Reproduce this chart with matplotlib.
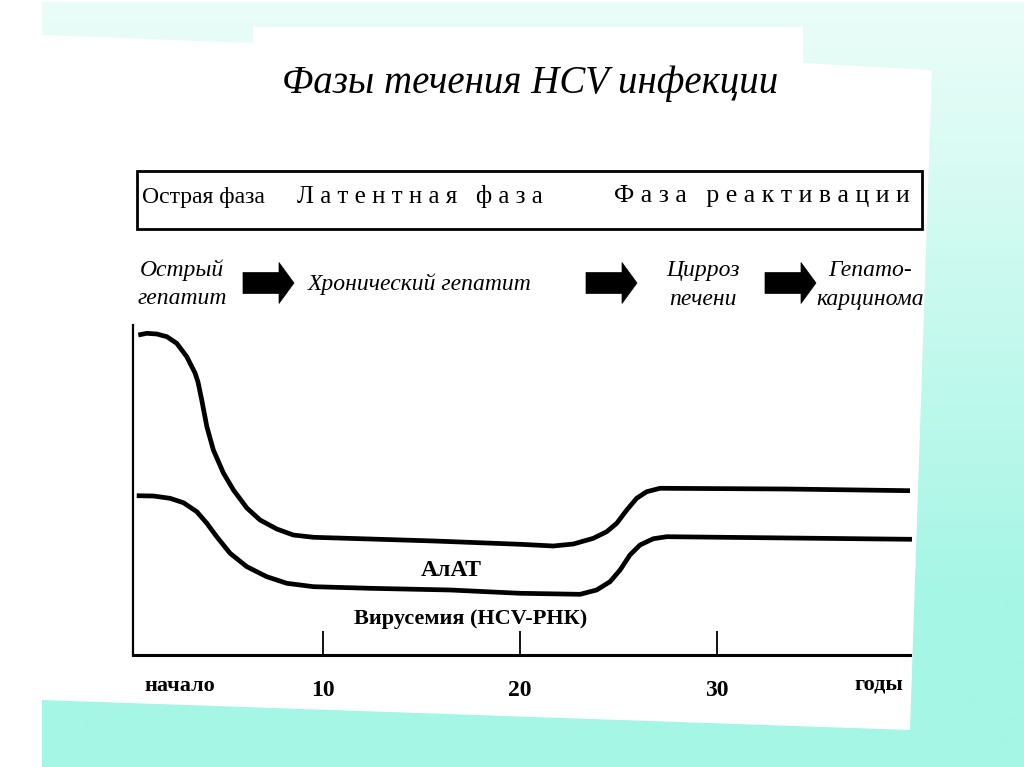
import numpy as np
import matplotlib
matplotlib.use("Agg")
import matplotlib.pyplot as plt
from matplotlib.patches import Polygon, Rectangle, FancyArrow
from matplotlib.colors import to_rgb

# ---------------- data ----------------
title = "Фазы течения HCV инфекции"
phase_labels = ["Острая фаза", "Л а т е н т н а я   ф а з а", "Ф а з а   р е а к т и в а ц и и"]
stage_labels = ["Острый\nгепатит", "Хронический гепатит", "Цирроз\nпечени", "Гепато-\nкарцинома"]

alt_years = [0.62, 1.05, 1.56, 2.07, 2.57, 3.08, 3.50, 3.65, 3.84, 4.10, 4.43, 4.94, 5.45,
             6.13, 6.80, 7.65, 8.49, 9.51, 12.39, 15.63, 20.00, 21.69, 22.71, 23.72,
             24.40, 24.91, 25.42, 25.92, 26.43, 27.11, 33.54, 39.80]
alt_level = [96.97, 97.48, 97.27, 96.45, 94.45, 90.39, 85.45, 82.73, 77.27, 69.18, 62.12,
             55.15, 50.00, 44.55, 40.91, 38.18, 36.36, 35.67, 35.15, 34.55, 33.55, 33.03,
             33.64, 35.36, 37.36, 39.91, 43.94, 47.48, 49.48, 50.52, 50.30, 49.79]

vir_years = [0.54, 1.39, 2.23, 2.91, 3.59, 4.10, 4.60, 5.28, 6.13, 7.14, 8.16, 9.51, 12.39,
             16.45, 20.00, 23.05, 23.89, 24.57, 25.08, 25.58, 26.09, 26.77, 27.45, 39.90]
vir_level = [48.27, 48.18, 47.48, 46.15, 43.42, 39.91, 35.85, 30.82, 26.76, 23.73, 21.73,
             20.70, 20.21, 19.70, 18.70, 18.39, 19.70, 22.21, 25.76, 30.30, 33.33, 35.24,
             35.85, 35.06]

tick_years = [10, 20, 30]
tick_labels = ["10", "20", "30"]
start_label = "начало"
unit_label = "годы"
alt_label = "АлАТ"
vir_label = "Вирусемия (HCV-РНК)"

SERIF = ["Liberation Serif", "DejaVu Serif"]

# ---------------- figure ----------------
W, H = 1024, 767
fig = plt.figure(figsize=(W / 100, H / 100), dpi=100, facecolor="white")

bg = fig.add_axes([0, 0, 1, 1])
bg.set_xlim(0, W)
bg.set_ylim(H, 0)
bg.axis("off")

# mint gradient background of the slide
c_top = np.array(to_rgb("#ebfdf8"))
c_bot = np.array(to_rgb("#a5f6e5"))
ys = np.linspace(0, 1, 256)
t = np.clip(ys * 767 / 600, 0, 1)[:, None]
grad = (c_top * (1 - t) + c_bot * t)[:, None, :]
bg.imshow(grad, extent=[42, W, H, 2], aspect="auto", zorder=0, interpolation="bilinear")

# white scanned page
page = Polygon([(0, 35), (42, 35), (253, 43), (253, 27), (803, 27), (803, 63),
                (932, 70), (910, 730), (42, 700), (42, H), (0, H)],
               closed=True, facecolor="white", edgecolor="none", zorder=1)
bg.add_patch(page)

# title
bg.text(530, 83, title, ha="center", va="center", fontsize=28, style="italic",
        family=SERIF, color="black", zorder=3)

# phase box
bg.add_patch(Rectangle((137, 171), 785, 58, facecolor="none", edgecolor="black",
                       lw=2.0, zorder=3))
bg.text(142, 198, phase_labels[0], ha="left", va="center", fontsize=17, family=SERIF, zorder=3)
bg.text(297, 196, phase_labels[1], ha="left", va="center", fontsize=18, family=SERIF, zorder=3)
bg.text(614, 196, phase_labels[2], ha="left", va="center", fontsize=18.5, family=SERIF, zorder=3)

# stage row
bg.text(182, 284, stage_labels[0], ha="center", va="center", fontsize=17, style="italic",
        family=SERIF, linespacing=1.45, zorder=3)
bg.text(420, 284, stage_labels[1], ha="center", va="center", fontsize=17, style="italic",
        family=SERIF, zorder=3)
bg.text(703, 285, stage_labels[2], ha="center", va="center", fontsize=17, style="italic",
        family=SERIF, linespacing=1.45, zorder=3)
bg.text(870, 285, stage_labels[3], ha="center", va="center", fontsize=17, style="italic",
        family=SERIF, linespacing=1.45, zorder=3)

for x0 in (243, 586, 765):
    bg.add_patch(FancyArrow(x0, 283, 51, 0, width=21, head_width=41, head_length=15,
                            length_includes_head=True, facecolor="black",
                            edgecolor="black", lw=0.5, zorder=3))

# ---------------- chart ----------------
ax = fig.add_axes([133 / W, 1 - 655 / H, (910 - 133) / W, (655 - 325) / H])
ax.set_facecolor("none")
ax.set_xlim(0.35, 39.8)
ax.set_ylim(0, 100)
for s in ("top", "right"):
    ax.spines[s].set_visible(False)
ax.spines["left"].set_linewidth(1.6)
ax.spines["bottom"].set_linewidth(2.2)

ax.plot(alt_years, alt_level, color="black", lw=3.4, solid_joinstyle="round",
        solid_capstyle="butt", clip_on=False)
ax.plot(vir_years, vir_level, color="black", lw=3.4, solid_joinstyle="round",
        solid_capstyle="butt", clip_on=False)

ax.set_xticks(tick_years)
ax.set_xticklabels(tick_labels, fontsize=17, fontweight="bold", family=SERIF)
ax.tick_params(axis="x", direction="in", length=17, width=1.3, pad=18)
ax.set_yticks([])

ax.text(2.75, -9.5, start_label, ha="center", va="center", fontsize=16, fontweight="bold",
        family=SERIF, clip_on=False)
ax.text(38.2, -9.0, unit_label, ha="center", va="center", fontsize=16, fontweight="bold",
        family=SERIF, clip_on=False)
ax.text(16.5, 25.5, alt_label, ha="center", va="center", fontsize=17, fontweight="bold",
        family=SERIF)
ax.text(17.5, 10.9, vir_label, ha="center", va="center", fontsize=16, fontweight="bold",
        family=SERIF)

fig.savefig("out.png", dpi=100, facecolor="white")
